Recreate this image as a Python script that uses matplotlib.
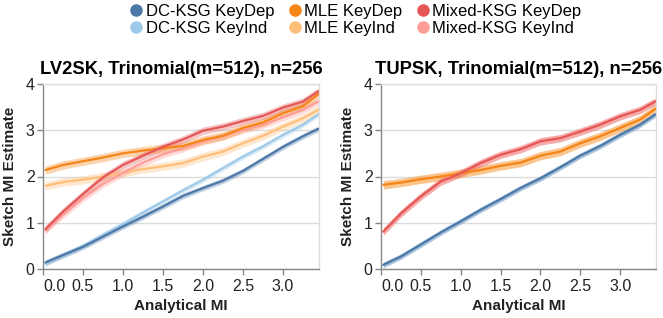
import matplotlib
matplotlib.use("Agg")
import matplotlib.pyplot as plt
from matplotlib.lines import Line2D
import numpy as np

plt.rcParams['font.family'] = ['Liberation Sans', 'DejaVu Sans']

# ---------------- data ----------------
x_vals = [0.03, 0.25, 0.5, 0.75, 1.0, 1.25, 1.5, 1.75, 2.0, 2.25, 2.5, 2.75, 3.0, 3.25, 3.44]

titles = ["LV2SK, Trinomial(m=512), n=256", "TUPSK, Trinomial(m=512), n=256"]

series_names = ["DC-KSG KeyDep", "DC-KSG KeyInd", "MLE KeyDep", "MLE KeyInd",
                "Mixed-KSG KeyDep", "Mixed-KSG KeyInd"]
series_colors = ["#4c78a8", "#9ecae9", "#f58518", "#ffbf79", "#e45756", "#ff9d98"]

# LV2SK panel
lv_dc_dep = [0.14, 0.30, 0.48, 0.70, 0.92, 1.13, 1.35, 1.58, 1.75, 1.91, 2.12, 2.38, 2.64, 2.87, 3.03]
lv_dc_ind = [0.12, 0.30, 0.50, 0.74, 0.97, 1.22, 1.46, 1.70, 1.93, 2.18, 2.43, 2.65, 2.90, 3.12, 3.34]
lv_mle_dep = [2.14, 2.25, 2.33, 2.41, 2.50, 2.56, 2.61, 2.66, 2.79, 2.88, 3.05, 3.17, 3.37, 3.52, 3.78]
lv_mle_ind = [1.80, 1.88, 1.93, 2.00, 2.08, 2.16, 2.22, 2.29, 2.43, 2.54, 2.72, 2.88, 3.08, 3.26, 3.44]
lv_mix_dep = [0.86, 1.24, 1.62, 1.98, 2.25, 2.45, 2.64, 2.80, 2.99, 3.08, 3.20, 3.31, 3.49, 3.62, 3.84]
lv_mix_ind = [0.84, 1.17, 1.53, 1.84, 2.08, 2.30, 2.48, 2.61, 2.76, 2.87, 3.01, 3.12, 3.28, 3.44, 3.62]

# TUPSK panel
tu_dc_dep = [0.09, 0.27, 0.53, 0.79, 1.03, 1.28, 1.51, 1.75, 1.96, 2.20, 2.45, 2.66, 2.90, 3.12, 3.34]
tu_dc_ind = [0.09, 0.27, 0.53, 0.79, 1.03, 1.28, 1.51, 1.75, 1.96, 2.20, 2.45, 2.66, 2.90, 3.12, 3.34]
tu_mle_dep = [1.82, 1.87, 1.94, 2.00, 2.07, 2.14, 2.23, 2.30, 2.45, 2.54, 2.72, 2.87, 3.05, 3.23, 3.46]
tu_mle_ind = [1.82, 1.87, 1.94, 2.00, 2.07, 2.14, 2.23, 2.30, 2.45, 2.54, 2.72, 2.87, 3.05, 3.23, 3.46]
tu_mix_dep = [0.81, 1.20, 1.57, 1.89, 2.07, 2.29, 2.47, 2.59, 2.76, 2.83, 2.97, 3.12, 3.30, 3.44, 3.62]
tu_mix_ind = [0.81, 1.20, 1.57, 1.89, 2.07, 2.29, 2.47, 2.59, 2.76, 2.83, 2.97, 3.12, 3.30, 3.44, 3.62]

# confidence band half widths per series
ci_half = [0.06, 0.06, 0.09, 0.09, 0.08, 0.08]

x_ticks = [0.0, 0.5, 1.0, 1.5, 2.0, 2.5, 3.0]
y_ticks = [0, 1, 2, 3, 4]

panels = [
    [lv_dc_dep, lv_dc_ind, lv_mle_dep, lv_mle_ind, lv_mix_dep, lv_mix_ind],
    [tu_dc_dep, tu_dc_ind, tu_mle_dep, tu_mle_ind, tu_mix_dep, tu_mix_ind],
]

# draw order (KeyInd below KeyDep)
draw_order = [1, 3, 5, 0, 2, 4]

W, H = 663, 318
fig = plt.figure(figsize=(W / 100, H / 100), dpi=100)

axes_px = [(43, 84, 276, 185), (381, 84, 275, 185)]

for pi, (left, top, w, h) in enumerate(axes_px):
    ax = fig.add_axes([left / W, (H - top - h) / H, w / W, h / H])
    data = panels[pi]
    for si in draw_order:
        y = np.array(data[si])
        c = series_colors[si]
        ax.fill_between(x_vals, y - ci_half[si], y + ci_half[si], color=c, alpha=0.35,
                        linewidth=0, zorder=2)
        ax.plot(x_vals, y, color=c, lw=1.6, zorder=3, solid_capstyle='round')
    ax.set_xlim(0, 3.45)
    ax.set_ylim(0, 4)
    ax.set_xticks(x_ticks)
    ax.set_xticklabels([f"{t:.1f}" for t in x_ticks])
    ax.set_yticks(y_ticks)
    ax.set_yticklabels([str(t) for t in y_ticks])
    ax.grid(axis='y', color='#dddddd', lw=1, zorder=0)
    ax.set_axisbelow(True)
    for s in ['top', 'right']:
        ax.spines[s].set_color('#dddddd')
        ax.spines[s].set_linewidth(1)
    for s in ['left', 'bottom']:
        ax.spines[s].set_color('#888888')
        ax.spines[s].set_linewidth(1)
    ax.tick_params(axis='both', colors='#888888', labelcolor='#222222', labelsize=11.5,
                   length=4, width=1)
    ax.tick_params(axis='x', pad=3)
    ax.tick_params(axis='y', pad=2)
    lbls = ax.get_xticklabels()
    lbls[0].set_horizontalalignment('left')
    ax.set_xlabel("Analytical MI", fontsize=11, fontweight='bold', color='#222222', labelpad=4)
    ax.set_ylabel("Sketch MI Estimate", fontsize=11, fontweight='bold', color='#222222', labelpad=6)
    ax.set_title(titles[pi], fontsize=13.2, fontweight='bold', color='#000000', pad=7)

handles = []
labels = []
for si in [0, 1, 2, 3, 4, 5]:
    handles.append(Line2D([], [], marker='o', linestyle='none', markersize=8,
                          markerfacecolor=series_colors[si], markeredgecolor=series_colors[si]))
    labels.append(series_names[si])

fig.legend(handles, labels, ncol=3, loc='upper left', bbox_to_anchor=(128 / W, 1 - 4 / H),
           frameon=False, fontsize=12, handletextpad=0.05, columnspacing=0.76,
           labelspacing=0.14, handlelength=1.0, borderaxespad=0, borderpad=0)

fig.savefig("out.png", dpi=100)
